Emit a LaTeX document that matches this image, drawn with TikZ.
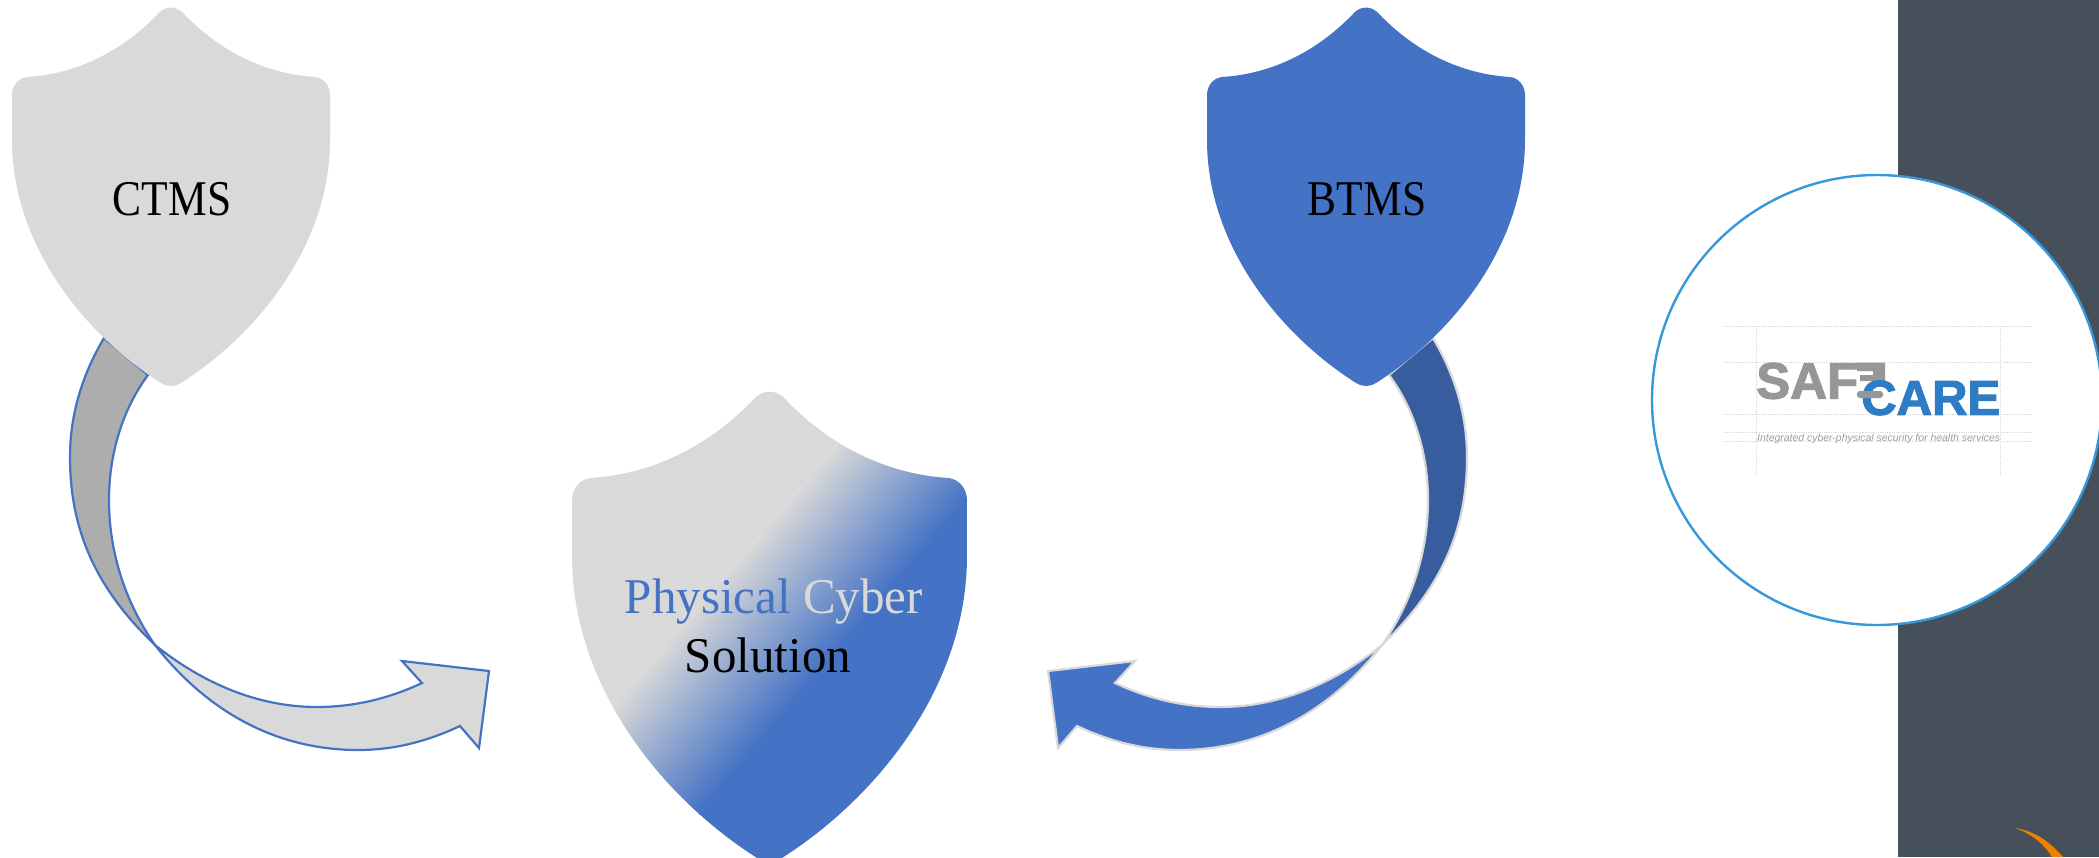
\documentclass[tikz,border=0pt]{standalone}
\usepackage{fontspec}
\usepackage{graphicx}
\setmainfont{Liberation Serif}[FakeStretch=0.87]
\newfontfamily\widefont{Liberation Serif}[FakeStretch=0.98]
\newfontfamily\logofont{Liberation Sans}[BoldFeatures={FakeBold=2.2}]
\definecolor{sgray}{HTML}{D9D9D9}
\definecolor{sblue}{HTML}{4472C4}
\definecolor{sdark}{HTML}{375D9E}
\definecolor{sback}{HTML}{ADADAD}
\definecolor{panel}{HTML}{46505A}
\definecolor{ring}{HTML}{3498DB}
\definecolor{logogray}{HTML}{979797}
\definecolor{logoblue}{HTML}{2E7CC4}
\definecolor{swoosh}{HTML}{F08000}
\newcommand{\shieldpath}{
  (-14,8) .. controls (-50,45) and (-95,67) .. (-144,70)
  .. controls (-153,71) and (-159,79) .. (-159,88)
  -- (-159,133) .. controls (-159,235) and (-90,325) .. (-10,376)
  .. controls (-4,380) and (4,380) .. (10,376)
  .. controls (90,325) and (159,235) .. (159,133)
  -- (159,88) .. controls (159,79) and (153,71) .. (144,70)
  .. controls (95,67) and (50,45) .. (14,8)
  .. controls (6,-2) and (-6,-2) .. (-14,8) -- cycle}
\newcommand{\backpiece}{
  (104,338) .. controls (82,375) and (70,415) .. (70,457)
  .. controls (70,525) and (92,585) .. (155,645)
  .. controls (127,605) and (109,555) .. (109,500)
  .. controls (109,455) and (122,410) .. (148,375) -- cycle}
\newcommand{\frontpiece}{
  (155,645) .. controls (205,685) and (260,707) .. (317,707)
  .. controls (355,707) and (390,698) .. (422,683)
  -- (402,661) -- (489,671) -- (479,748) -- (460,726)
  .. controls (428,741) and (395,750) .. (358,750)
  .. controls (280,750) and (210,715) .. (155,645) -- cycle}
\tikzset{
  shieldtext/.style={inner sep=0pt,anchor=base,font=\fontsize{50}{50}\selectfont},
  widetext/.style={inner sep=0pt,anchor=base,font=\widefont\fontsize{50}{50}\selectfont},
  guide/.style={draw=black!14,line width=0.8pt,densely dotted},
  leftline/.style={draw=sblue,line width=2.2pt,line join=miter},
  rightline/.style={draw=sgray,line width=2.2pt,line join=miter},
}
\begin{document}
\begin{tikzpicture}[x=1pt,y=-1pt]
\useasboundingbox (0,0) rectangle (2099,857);
\begin{scope}
\clip (0,0) rectangle (2099,857);
\fill[panel] (1898,0) rectangle (2099,857);
\path[fill=swoosh] (2015,828) .. controls (2035,831) and (2050,842) .. (2063,857) -- (2052,857) .. controls (2045,845) and (2032,834) .. (2015,828) -- cycle;
\draw[fill=white,draw=ring,line width=2.4pt] (1877,400) circle (225);

% logo guides
\foreach \yy in {326,362.3,414.3,432.3,441}{\draw[guide] (1723,\yy) -- (2031,\yy);}
\foreach \xx in {1756.7,2000.7}{\draw[guide] (\xx,326) -- (\xx,475);}
\node[inner sep=0pt,anchor=base west,text=logogray,font=\logofont\bfseries\fontsize{51}{51}\selectfont] (safe) at (1756,398.5) {SAF};
\fill[logogray] (1857,362.5) rectangle (1885,371) (1873,362.5) rectangle (1885,385) (1860,375) rectangle (1885,381);
\node[inner sep=0pt,anchor=base west,text=logoblue,font=\logofont\bfseries\fontsize{51}{51}\selectfont] (care) at (1861,414.8) {\resizebox{139pt}{!}{CARE}};
\fill[logogray,rounded corners=3pt] (1857,391) rectangle (1883,398);
\node[inner sep=0pt,anchor=base west,text=black!38,font=\logofont\itshape] (tag) at (1757,441) {\resizebox{243pt}{!}{Integrated cyber-physical security for health services}};

% left arrow
\draw[fill=sback,leftline] \backpiece;
\draw[fill=sgray,leftline] \frontpiece;
% right arrow
\begin{scope}[xshift=1537pt,xscale=-1]
\draw[fill=sdark,rightline] \backpiece;
\draw[fill=sblue,rightline] \frontpiece;
\end{scope}

% side shields
\begin{scope}[xshift=171pt,yshift=-7pt]
\fill[sgray] \shieldpath;
\end{scope}
\begin{scope}[xshift=1366pt,yshift=-7pt]
\fill[sblue] \shieldpath;
\end{scope}
% central shield
\begin{scope}
\clip[shift={(769.5,391)},scale=1.242] \shieldpath;
\begin{scope}[transform canvas={shift={(836.7pt,-445pt)},rotate=-40.5}]
\fill[sgray] (-900pt,-900pt) rectangle (0pt,900pt);
\fill[sblue] (134pt,-900pt) rectangle (1000pt,900pt);
\shade[left color=sgray,right color=sblue,shading angle=90] (0pt,-900pt) rectangle (134.6pt,900pt);
\end{scope}
\end{scope}
\end{scope}

\node[shieldtext] (ctms) at (172,215) {CTMS};
\node[shieldtext] (btms) at (1367,215) {BTMS};
\node[widetext] (pc) at (774,613) {\textcolor{sblue}{Physical} \textcolor{sgray}{Cyber}};
\node[widetext] (sol) at (768,672) {Solution};
\end{tikzpicture}
\end{document}
